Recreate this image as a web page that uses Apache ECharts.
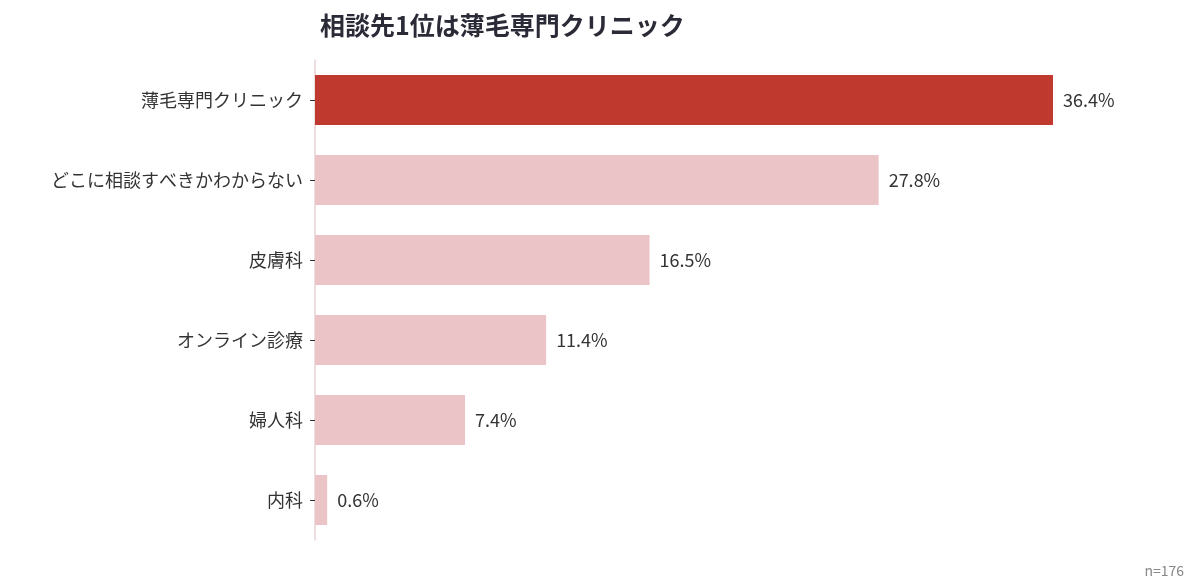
<!DOCTYPE html>
<html>
<head>
<meta charset="utf-8">
<script src="https://cdn.jsdelivr.net/npm/echarts@6/dist/echarts.min.js"></script>
<style>html,body{margin:0;padding:0;background:#fff}#main{width:1200px;height:588px}</style>
</head>
<body>
<div id="main"></div>
<script>
// 相談先データ
var categories = ['薄毛専門クリニック', 'どこに相談すべきかわからない', '皮膚科', 'オンライン診療', '婦人科', '内科'];
var values = [36.4, 27.8, 16.5, 11.4, 7.4, 0.6];

var chart = echarts.init(document.getElementById('main'));
var font = '"Noto Sans CJK JP", "Noto Sans", sans-serif';

var option = {
	animation: false,
	textStyle: { fontFamily: font },
	title: {
		text: '相談先1位は薄毛専門クリニック',
		left: 315, top: 8,
		textStyle: { fontSize: 25, fontWeight: 'bold', color: '#2b2b38', fontFamily: font }
	},
	graphic: [{
		type: 'text', right: 16, bottom: 10,
		style: { text: 'n=176', fill: '#888', fontSize: 14, fontFamily: font }
	}],
	grid: { left: 315, right: 74, top: 60, bottom: 48 },
	xAxis: { type: 'value', min: 0, max: 40, show: false },
	yAxis: {
		type: 'category', inverse: true, data: categories,
		axisLine: { lineStyle: { color: '#e6d2d4', width: 1.5 } },
		axisTick: { show: true, alignWithLabel: true, length: 5, lineStyle: { color: '#333' } },
		axisLabel: { fontSize: 18, color: '#333', margin: 12, fontFamily: font }
	},
	series: [{
		type: 'bar',
		barWidth: 50,
		data: values.map(function (v, i) {
			return { value: v, itemStyle: { color: i == 0 ? '#c0392f' : '#eac4c6' } };
		}),
		label: {
			show: true, position: 'right', distance: 10,
			formatter: function (p) { return p.value.toFixed(1) + '%'; },
			fontSize: 18, color: '#333', fontFamily: font
		}
	}]
};
chart.setOption(option);
</script>
</body>
</html>
